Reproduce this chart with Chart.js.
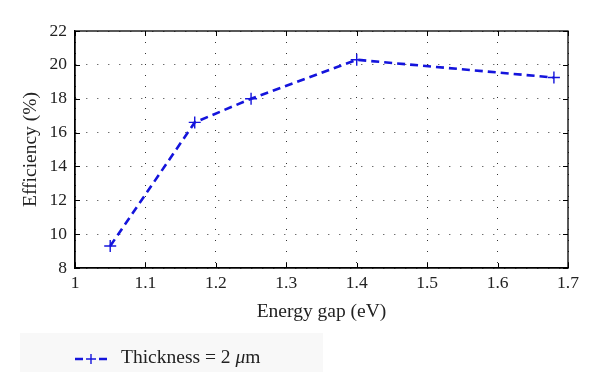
<!DOCTYPE html>
<html><head><meta charset="utf-8">
<script src="https://cdn.jsdelivr.net/npm/chart.js@4/dist/chart.umd.min.js"></script>
<style>html,body{margin:0;padding:0;background:#fff}#wrap{width:600px;height:390px}</style>
</head><body><div id="wrap"><canvas id="c" width="600" height="390"></canvas></div>
<script>
const energyGap = [1.05, 1.17, 1.25, 1.40, 1.68];
const efficiency = [9.3, 16.6, 18.0, 20.3, 19.25];
const xTicks = [1, 1.1, 1.2, 1.3, 1.4, 1.5, 1.6, 1.7];
const yTicks = [8, 10, 12, 14, 16, 18, 20, 22];
const seriesLabel = 'Thickness = 2 μm';
const xTitle = 'Energy gap (eV)';
const yTitle = 'Efficiency (%)';

const FONT = '"Liberation Serif", "DejaVu Serif", serif';
const BLUE = '#1414dc';

const framePlugin = {
  id: 'frame',
  afterDatasetsDraw(chart) {
    const {ctx, chartArea: a, scales: {x, y}} = chart;
    ctx.save();
    ctx.strokeStyle = '#000';
    ctx.lineWidth = 1.3;
    ctx.strokeRect(a.left, a.top, a.right - a.left, a.bottom - a.top);
    ctx.lineWidth = 1;
    ctx.beginPath();
    const t = 5;
    xTicks.forEach(v => {
      const px = Math.round(x.getPixelForValue(v)) + 0.5;
      ctx.moveTo(px, a.bottom); ctx.lineTo(px, a.bottom - t);
      ctx.moveTo(px, a.top); ctx.lineTo(px, a.top + t);
    });
    yTicks.forEach(v => {
      const py = Math.round(y.getPixelForValue(v)) + 0.5;
      ctx.moveTo(a.left, py); ctx.lineTo(a.left + t, py);
      ctx.moveTo(a.right, py); ctx.lineTo(a.right - t, py);
    });
    ctx.stroke();
    ctx.restore();
  },
  afterDraw(chart) {
    const ctx = chart.ctx;
    ctx.save();
    ctx.fillStyle = '#f8f8f8';
    ctx.fillRect(20, 333, 303, 39);
    // marker
    ctx.strokeStyle = BLUE;
    ctx.lineWidth = 2.6;
    ctx.beginPath();
    ctx.moveTo(75, 359); ctx.lineTo(83, 359);
    ctx.moveTo(99, 359); ctx.lineTo(107, 359);
    ctx.stroke();
    ctx.lineWidth = 1.4;
    ctx.beginPath();
    ctx.moveTo(91, 354); ctx.lineTo(91, 364);
    ctx.moveTo(86, 359); ctx.lineTo(96, 359);
    ctx.stroke();
    ctx.fillStyle = '#222';
    const fs = '19.5px ' + FONT;
    ctx.font = fs;
    ctx.textBaseline = 'alphabetic';
    ctx.textAlign = 'left';
    const label = chart.data.datasets[0].label;
    const idx = label.indexOf('μ');
    const pre = label.slice(0, idx);
    ctx.fillText(pre, 121, 363);
    let xx = 121 + ctx.measureText(pre).width;
    ctx.font = 'italic ' + fs;
    ctx.fillText('μ', xx, 363);
    xx += ctx.measureText('μ').width;
    ctx.font = fs;
    ctx.fillText(label.slice(idx + 1), xx, 363);
    ctx.restore();
  }
};

new Chart(document.getElementById('c'), {
  type: 'scatter',
  data: {
    datasets: [{
      label: seriesLabel,
      data: energyGap.map((v, i) => ({x: v, y: efficiency[i]})),
      showLine: true,
      borderColor: BLUE,
      backgroundColor: BLUE,
      borderWidth: 2.6,
      borderDash: [8, 5],
      pointStyle: 'cross',
      pointRadius: 6,
      pointBorderWidth: 1.4,
      pointBorderColor: BLUE,
      fill: false,
      tension: 0
    }]
  },
  options: {
    responsive: false,
    animation: false,
    devicePixelRatio: 1,
    layout: {padding: {top: 31, right: 32, left: 0, bottom: 0}},
    plugins: {legend: {display: false}, tooltip: {enabled: false}},
    scales: {
      x: {
        type: 'linear', min: 1, max: 1.7,
        afterBuildTicks: s => { s.ticks = xTicks.map(v => ({value: v})); },
        afterFit: s => { s.height = 122; },
        ticks: {
          color: '#222', font: {family: FONT, size: 17.5}, padding: 5,
          callback: v => String(v)
        },
        grid: {color: '#333', lineWidth: 1, drawTicks: false},
        border: {display: true, color: '#000', width: 1.3, dash: [1, 10]},
        title: {display: true, text: xTitle, color: '#222', font: {family: FONT, size: 19.5}, padding: {top: 0, bottom: 66}}
      },
      y: {
        type: 'linear', min: 8, max: 22,
        afterBuildTicks: s => { s.ticks = yTicks.map(v => ({value: v})); },
        afterFit: s => { s.width = 75; },
        ticks: {
          color: '#222', font: {family: FONT, size: 17.5}, padding: 8,
          callback: v => String(v)
        },
        grid: {color: '#333', lineWidth: 1, drawTicks: false},
        border: {display: true, color: '#000', width: 1.3, dash: [1, 10]},
        title: {display: true, text: yTitle, color: '#222', font: {family: FONT, size: 19.5}, padding: {top: 19, bottom: 0}}
      }
    }
  },
  plugins: [framePlugin]
});
</script></body></html>
